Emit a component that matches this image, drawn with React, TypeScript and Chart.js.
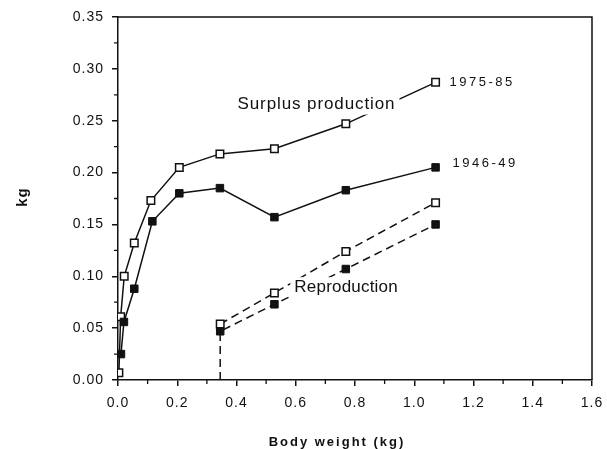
import React, { useEffect, useRef } from "react";
import { Chart, registerables } from "chart.js";

Chart.register(...registerables);

// Body weight (kg) and values (kg)
const surplusX = [0.003, 0.009, 0.021, 0.055, 0.111, 0.207, 0.344, 0.528, 0.769, 1.072];
const surplus7585 = [0.007, 0.061, 0.1, 0.132, 0.173, 0.205, 0.218, 0.223, 0.247, 0.287];

const surplus4649X = [0.01, 0.02, 0.055, 0.116, 0.207, 0.344, 0.528, 0.769, 1.072];
const surplus4649 = [0.025, 0.056, 0.088, 0.153, 0.18, 0.185, 0.157, 0.183, 0.205];

const reproX = [0.345, 0.528, 0.769, 1.072];
const repro7585 = [0.054, 0.084, 0.124, 0.171];

const repro4649X = [0.345, 0.345, 0.528, 0.769, 1.072];
const repro4649 = [0.0, 0.047, 0.073, 0.107, 0.15];

const xTicks = [0, 0.2, 0.4, 0.6, 0.8, 1.0, 1.2, 1.4, 1.6];
const yTicks = [0, 0.05, 0.1, 0.15, 0.2, 0.25, 0.3, 0.35];

const seriesLabels = ["1975-85", "1946-49"];
const annotations = ["Surplus production", "Reproduction"];
const xTitle = "Body weight (kg)";
const yTitle = "kg";

const FONT = "'Liberation Sans', Arial, Helvetica, sans-serif";
const INK = "#111";

const toPts = (xs: number[], ys: number[]) => xs.map((x, i) => ({ x, y: ys[i] }));

const overlayPlugin = {
  id: "overlay",
  beforeDraw(chart: any) {
    chart.ctx.letterSpacing = "1px";
  },
  afterDatasetsDraw(chart: any) {
    const ctx = chart.ctx;
    const xs = chart.scales.x;
    const ys = chart.scales.y;
    const ca = chart.chartArea;
    ctx.save();
    // top & right frame
    ctx.strokeStyle = INK;
    ctx.lineWidth = 1.5;
    ctx.beginPath();
    ctx.moveTo(ca.left, ca.top);
    ctx.lineTo(ca.right, ca.top);
    ctx.lineTo(ca.right, ca.bottom);
    ctx.stroke();
    // minor ticks
    ctx.lineWidth = 1.3;
    ctx.beginPath();
    for (let i = 0; i < yTicks.length - 1; i++) {
      const v = (yTicks[i] + yTicks[i + 1]) / 2;
      const py = ys.getPixelForValue(v);
      ctx.moveTo(ca.left - 4, py);
      ctx.lineTo(ca.left, py);
    }
    for (let i = 0; i < xTicks.length - 1; i++) {
      const v = (xTicks[i] + xTicks[i + 1]) / 2;
      const px = xs.getPixelForValue(v);
      ctx.moveTo(px, ca.bottom);
      ctx.lineTo(px, ca.bottom + 4);
    }
    ctx.stroke();

    const boxText = (t: string, cx: number, cy: number, size: number, sp: string) => {
      ctx.font = `${size}px ${FONT}`;
      ctx.letterSpacing = sp;
      const w = ctx.measureText(t).width;
      ctx.fillStyle = "#fff";
      ctx.fillRect(cx - w / 2 - 4, cy - size / 2 - 2, w + 8, size + 4);
      ctx.fillStyle = INK;
      ctx.textAlign = "center";
      ctx.textBaseline = "middle";
      ctx.fillText(t, cx, cy);
    };
    // annotations anchored to data coordinates
    const sLabX = xs.getPixelForValue(0.67);
    const sLabY = ys.getPixelForValue(0.266);
    boxText(annotations[0], sLabX, sLabY, 17, "0.9px");
    const rLabX = xs.getPixelForValue(0.77);
    const rLabY = ys.getPixelForValue(0.089);
    boxText(annotations[1], rLabX, rLabY, 17, "0.2px");

    // series labels
    ctx.font = `13px ${FONT}`;
    ctx.letterSpacing = "2.5px";
    ctx.fillStyle = INK;
    ctx.textAlign = "left";
    ctx.textBaseline = "middle";
    ctx.fillText(seriesLabels[0], xs.getPixelForValue(1.072) + 14, ys.getPixelForValue(0.287));
    ctx.fillText(seriesLabels[1], xs.getPixelForValue(1.072) + 17, ys.getPixelForValue(0.209));

    // axis titles
    ctx.font = `bold 13px ${FONT}`;
    ctx.letterSpacing = "2px";
    ctx.textAlign = "center";
    ctx.fillText(xTitle, 337, 442);
    ctx.save();
    ctx.font = `bold 15px ${FONT}`;
    ctx.translate(23, 197);
    ctx.rotate(-Math.PI / 2);
    ctx.letterSpacing = "1px";
    ctx.fillText(yTitle, 0, 0);
    ctx.restore();
    ctx.restore();
  },
  afterDraw(chart: any) {
    chart.ctx.letterSpacing = "0px";
  },
};

export default function App() {
  const ref = useRef<HTMLCanvasElement>(null);
  useEffect(() => {
    if (!ref.current) return;
    const openPt = {
      pointStyle: "rect" as const,
      pointRadius: 5.3,
      pointBackgroundColor: "#fff",
      pointBorderColor: INK,
      pointBorderWidth: 1.5,
    };
    const filledPt = {
      pointStyle: "rect" as const,
      pointRadius: 5.3,
      pointBackgroundColor: INK,
      pointBorderColor: INK,
      pointBorderWidth: 1,
    };
    const chart = new Chart(ref.current, {
      type: "scatter",
      data: {
        datasets: [
          { data: toPts(surplus4649X, surplus4649), showLine: true, borderColor: INK, borderWidth: 1.5, ...filledPt },
          { data: toPts(repro4649X, repro4649), showLine: true, borderColor: INK, borderWidth: 1.5, borderDash: [8, 5], ...filledPt, pointRadius: [0, 5.3, 5.3, 5.3, 5.3] },
          { data: toPts(surplusX, surplus7585), showLine: true, borderColor: INK, borderWidth: 1.5, ...openPt },
          { data: toPts(reproX, repro7585), showLine: true, borderColor: INK, borderWidth: 1.5, borderDash: [8, 5], ...openPt },
        ],
      },
      options: {
        animation: false,
        responsive: false,
        events: [],
        layout: { padding: { top: 17, right: 15, left: 0, bottom: 0 } },
        plugins: { legend: { display: false }, tooltip: { enabled: false } },
        scales: {
          x: {
            type: "linear",
            min: 0,
            max: 1.6,
            afterFit: (s: any) => { s.height = 69; s.paddingLeft = 0; s.paddingRight = 0; },
            afterBuildTicks: (s: any) => { s.ticks = xTicks.map((v) => ({ value: v })); },
            ticks: {
              callback: (v: any) => Number(v).toFixed(1),
              color: INK,
              font: { family: FONT, size: 14 },
              padding: 9,
              maxRotation: 0,
            },
            grid: { display: true, drawOnChartArea: false, drawTicks: true, tickLength: 6, color: INK, lineWidth: 1.5 },
            border: { display: true, color: INK, width: 1.5 },
          },
          y: {
            type: "linear",
            min: 0,
            max: 0.35,
            afterFit: (s: any) => { s.width = 118; s.paddingTop = 0; s.paddingBottom = 0; },
            afterBuildTicks: (s: any) => { s.ticks = yTicks.map((v) => ({ value: v })); },
            ticks: {
              callback: (v: any) => Number(v).toFixed(2),
              color: INK,
              font: { family: FONT, size: 14 },
              padding: 8,
            },
            grid: { display: true, drawOnChartArea: false, drawTicks: true, tickLength: 6, color: INK, lineWidth: 1.5 },
            border: { display: true, color: INK, width: 1.5 },
          },
        },
      },
      plugins: [overlayPlugin],
    });
    return () => chart.destroy();
  }, []);
  return (
    <div style={{ position: "absolute", left: 0, top: 0, width: 607, height: 449, background: "#fff" }}>
      <canvas ref={ref} width={607} height={449} style={{ display: "block" }} />
    </div>
  );
}
